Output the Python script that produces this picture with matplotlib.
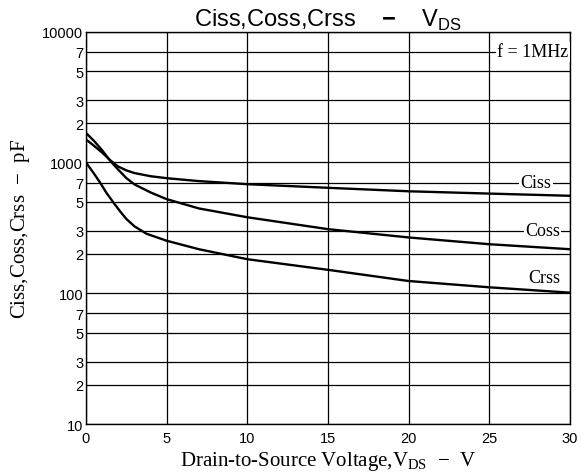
import matplotlib
matplotlib.use('Agg')
import matplotlib.pyplot as plt
from matplotlib.ticker import FixedLocator, FixedFormatter, NullFormatter

plt.rcParams['mathtext.fontset'] = 'custom'
plt.rcParams['mathtext.rm'] = 'Liberation Serif'
plt.rcParams['mathtext.sf'] = 'Liberation Sans'
plt.rcParams['mathtext.bf'] = 'Liberation Sans:bold'

# capacitance curves (V, pF)
ciss_v = [0, 0.5, 1, 1.5, 2, 2.5, 3, 4, 5, 7, 10, 15, 20, 25, 30]
ciss_c = [1500, 1340, 1190, 1040, 930, 870, 830, 785, 758, 720, 682, 640, 602, 578, 556]

coss_v = [0, 0.5, 1, 1.5, 2, 2.5, 3, 4, 5, 7, 10, 15, 20, 25, 30]
coss_c = [1680, 1460, 1240, 1030, 880, 760, 680, 590, 524, 445, 381, 309, 267, 237, 217]

crss_v = [0, 0.5, 0.87, 1.25, 1.7, 2.1, 2.5, 3, 3.75, 5, 7, 10, 15, 20, 25, 30]
crss_c = [1000, 820, 703, 590, 494, 425, 370, 325, 285, 252, 217, 182, 151, 124, 111, 101]

x_ticks = [0, 5, 10, 15, 20, 25, 30]
y_ticks = [10, 20, 30, 50, 70, 100, 200, 300, 500, 700,
           1000, 2000, 3000, 5000, 7000, 10000]
y_labels = ['10', '2', '3', '5', '7', '100', '2', '3', '5', '7',
            '1000', '2', '3', '5', '7', '10000']

fig = plt.figure(figsize=(5.81, 4.77), dpi=100)
ax = fig.add_axes([0.148, 0.109, 0.833, 0.8225])

ax.set_yscale('log')
ax.set_xlim(0, 30)
ax.set_ylim(10, 10000)

ax.xaxis.set_major_locator(FixedLocator(x_ticks))
ax.yaxis.set_major_locator(FixedLocator(y_ticks))
ax.yaxis.set_major_formatter(FixedFormatter(y_labels))
ax.yaxis.set_minor_locator(FixedLocator([]))
ax.yaxis.set_minor_formatter(NullFormatter())
ax.grid(True, which='major', color='black', linewidth=0.9)
ax.tick_params(length=0, labelsize=10.5)
ax.tick_params(axis='x', pad=5)
ax.tick_params(axis='y', pad=2)
for lab in ax.get_xticklabels() + ax.get_yticklabels():
    lab.set_family('Liberation Sans')
for s in ax.spines.values():
    s.set_linewidth(1.0)

ax.plot(ciss_v, ciss_c, color='black', linewidth=1.7, zorder=3)
ax.plot(coss_v, coss_c, color='black', linewidth=1.7, zorder=3)
ax.plot(crss_v, crss_c, color='black', linewidth=1.7, zorder=3)

box = dict(facecolor='white', edgecolor='none', pad=1.0)
ax.text(27.9, 700, 'Ciss', family='Liberation Serif', fontsize=13,
        ha='center', va='center', bbox=box, zorder=4)
ax.text(28.3, 300, 'Coss', family='Liberation Serif', fontsize=13,
        ha='center', va='center', bbox=box, zorder=4)
ax.text(28.4, 132, 'Crss', family='Liberation Serif', fontsize=13,
        ha='center', va='center', bbox=box, zorder=4)
ax.text(27.7, 7000, 'f = 1MHz', family='Liberation Serif', fontsize=13,
        ha='center', va='center', bbox=box, zorder=4)

ax.set_title(r'Ciss,Coss,Crss    $\mathbf{-}$    V$_{\mathsf{DS}}$',
             family='Liberation Sans', fontsize=17, pad=2)
ax.set_xlabel(r'Drain-to-Source Voltage,V$_{\mathrm{DS}}$  $-$  V',
              family='Liberation Serif', fontsize=15, labelpad=3)
ax.set_ylabel(r'Ciss,Coss,Crss  $-$  pF',
              family='Liberation Serif', fontsize=15, labelpad=7)

fig.savefig('out.png', dpi=100)
